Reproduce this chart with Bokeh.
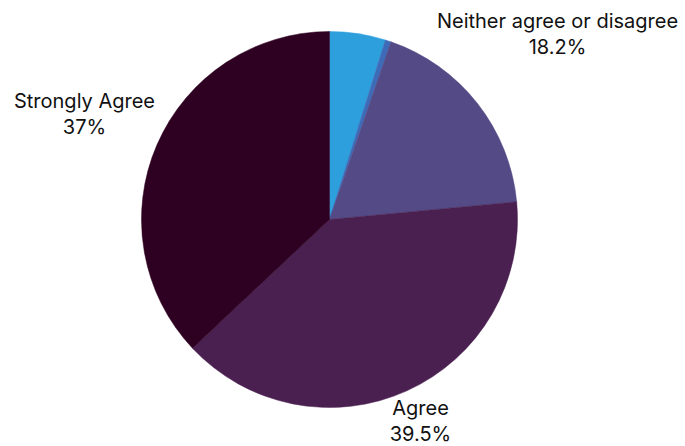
import math
from bokeh.plotting import figure
from bokeh.models import Range1d, ColumnDataSource
from bokeh.core.properties import value
from bokeh.embed import file_html
from bokeh.resources import INLINE

categories = ["Strongly disagree", "Disagree", "Neither agree or disagree", "Agree", "Strongly Agree"]
shares = [4.8, 0.5, 18.2, 39.5, 37.0]
pct_labels = ["4.8%", "0.5%", "18.2%", "39.5%", "37%"]
show_label = [False, False, True, True, True]
colors = ["#2d9fdc", "#3e6bb8", "#534a86", "#4a2050", "#2e0021"]

W, H = 685, 446
cx, cy, R = 329, H - 219, 188

p = figure(width=W, height=H, output_backend="svg", toolbar_location=None,
           x_range=Range1d(0, W), y_range=Range1d(0, H), min_border=0)
p.axis.visible = False
p.grid.visible = False
p.outline_line_color = None
p.background_fill_color = "white"

total = sum(shares)
cum = 0.0
starts, ends, mids = [], [], []
for s in shares:
    a0 = cum / total
    a1 = (cum + s) / total
    starts.append(math.pi / 2 - 2 * math.pi * a1)
    ends.append(math.pi / 2 - 2 * math.pi * a0)
    mids.append(math.pi / 2 - 2 * math.pi * (a0 + a1) / 2)
    cum += s

src = ColumnDataSource(dict(start=starts, end=ends, color=colors))
p.wedge(x=cx, y=cy, radius=R, start_angle="start", end_angle="end",
        fill_color="color", line_color="color", line_width=0.5, source=src)

# label offsets (dx, dy in pixels from pie centre, screen y downward)
label_off = {2: (228, -186), 3: (91, 201), 4: (-245, -106)}
font = value("Inter")
for i, cat in enumerate(categories):
    if not show_label[i]:
        continue
    dx, dy = label_off[i]
    lx = cx + dx
    ly = cy - dy
    p.text(x=[lx], y=[ly + 13], text=[cat], text_font=font, text_font_size="20px",
           text_align="center", text_baseline="middle", text_color="#111111")
    p.text(x=[lx], y=[ly - 13], text=[pct_labels[i]], text_font=font, text_font_size="20px",
           text_align="center", text_baseline="middle", text_color="#111111")

open("out.html", "w").write(file_html(p, INLINE))
